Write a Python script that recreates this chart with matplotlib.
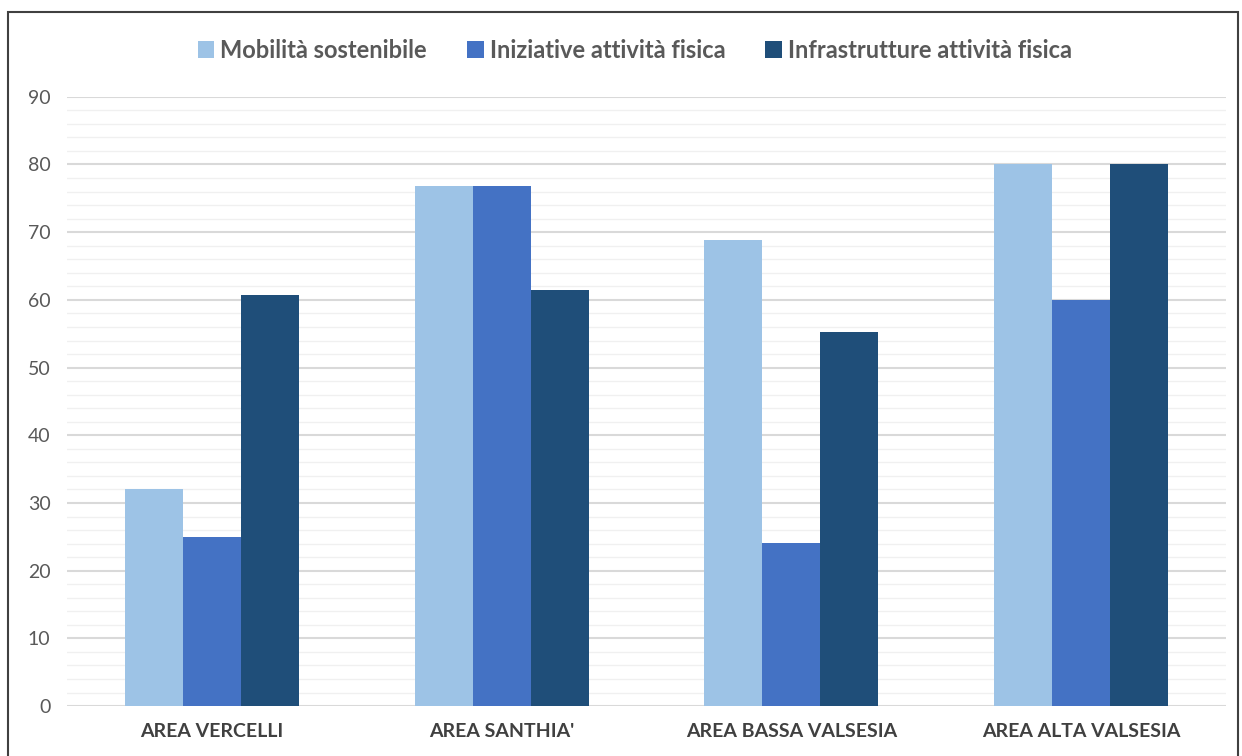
import matplotlib.pyplot as plt
import matplotlib.patches as mpatches
import numpy as np

categories = ["AREA VERCELLI", "AREA SANTHIA'", "AREA BASSA VALSESIA", "AREA ALTA VALSESIA"]
series_names = ["Mobilità sostenibile", "Iniziative attività fisica", "Infrastrutture attività fisica"]
mobilita = [32.0, 76.8, 68.9, 80.0]
iniziative = [25.0, 76.8, 24.1, 60.0]
infrastrutture = [60.7, 61.5, 55.2, 80.0]
colors = ["#9DC3E6", "#4472C4", "#1F4E79"]

plt.rcParams['font.family'] = ['Lato', 'DejaVu Sans']

fig = plt.figure(figsize=(12.42, 7.56), dpi=100)
ax = fig.add_axes([0.054, 0.066, 0.933, 0.806])

x = np.arange(len(categories))
width = 0.2
for i, (vals, name) in enumerate(zip([mobilita, iniziative, infrastrutture], series_names)):
    ax.bar(x + (i - 1) * width, vals, width, color=colors[i], label=name, zorder=3)

ax.set_ylim(0, 90)
ax.set_xlim(-0.5, 3.5)
ax.set_yticks(range(0, 91, 10))
ax.set_yticks(range(0, 91, 2), minor=True)
ax.grid(axis='y', which='major', color='#D9D9D9', linewidth=1.5, zorder=0)
ax.grid(axis='y', which='minor', color='#F0F0F0', linewidth=1.0, zorder=0)
ax.tick_params(axis='y', which='both', length=0, pad=12, labelsize=14, labelcolor='#595959')
ax.tick_params(axis='x', length=0, pad=12, labelsize=14, labelcolor='#404040')
ax.set_xticks(x)
ax.set_xticklabels(categories, fontweight='bold')
for s in ax.spines.values():
    s.set_visible(False)

ax.legend(loc='upper center', bbox_to_anchor=(0.49, 1.13), ncols=3, frameon=False,
          handlelength=0.7, handleheight=0.7, handletextpad=0.25,
          columnspacing=1.7, prop={'weight': 'bold', 'size': 17})
for t in ax.get_legend().get_texts():
    t.set_color('#595959')

# outer chart frame
fig.patches.append(mpatches.Rectangle((8 / 1242, -0.01), 1230 / 1242, 1 - 12 / 756 + 0.01,
                                      transform=fig.transFigure, fill=False,
                                      edgecolor='#404040', linewidth=1.5))

fig.savefig("out.png", dpi=100)
